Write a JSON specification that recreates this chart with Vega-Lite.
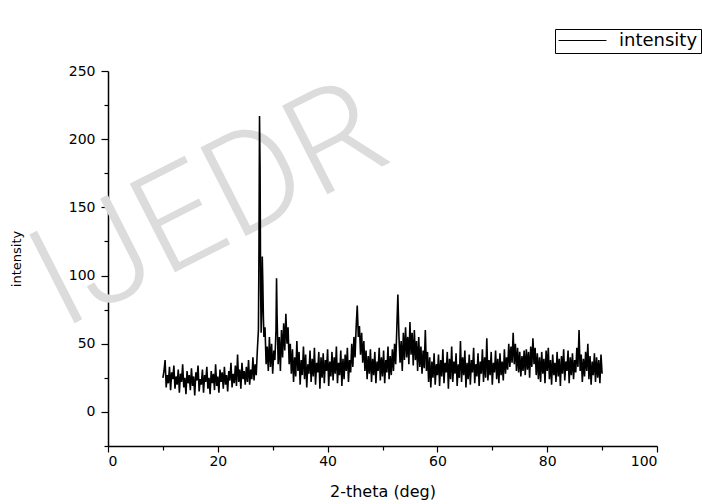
{
  "$schema": "https://vega.github.io/schema/vega-lite/v6.json",
  "autosize": "none",
  "width": 549,
  "height": 375,
  "padding": {"left": 108, "top": 71, "right": 45, "bottom": 58},
  "background": "white",
  "config": {
    "view": {"stroke": null},
    "font": "DejaVu Sans",
    "axis": {"zindex": 1, "domainColor": "black", "domainWidth": 1.5, "tickColor": "black", "tickWidth": 1.2, "labelColor": "black", "titleColor": "black", "labelFont": "DejaVu Sans", "titleFont": "DejaVu Sans", "titleFontWeight": "normal", "grid": false, "labelOverlap": false}
  },
  "datasets": {
    "xrd": [
      {"t":10.0,"v":25},{"t":10.2,"v":30},{"t":10.4,"v":38},{"t":10.6,"v":18},{"t":10.8,"v":27},{"t":11.0,"v":21},{"t":11.2,"v":33},{"t":11.4,"v":16},{"t":11.6,"v":29},{"t":11.8,"v":24},
      {"t":12.0,"v":34},{"t":12.2,"v":17},{"t":12.4,"v":26},{"t":12.6,"v":20},{"t":12.8,"v":31},{"t":13.0,"v":14},{"t":13.2,"v":28},{"t":13.4,"v":22},{"t":13.6,"v":35},{"t":13.8,"v":18},
      {"t":14.0,"v":25},{"t":14.2,"v":13},{"t":14.4,"v":30},{"t":14.6,"v":21},{"t":14.8,"v":27},{"t":15.0,"v":16},{"t":15.2,"v":32},{"t":15.4,"v":19},{"t":15.6,"v":26},{"t":15.8,"v":12},
      {"t":16.0,"v":29},{"t":16.2,"v":23},{"t":16.4,"v":34},{"t":16.6,"v":15},{"t":16.8,"v":24},{"t":17.0,"v":20},{"t":17.2,"v":31},{"t":17.4,"v":14},{"t":17.6,"v":27},{"t":17.8,"v":22},
      {"t":18.0,"v":33},{"t":18.2,"v":17},{"t":18.4,"v":25},{"t":18.6,"v":13},{"t":18.8,"v":30},{"t":19.0,"v":21},{"t":19.2,"v":28},{"t":19.4,"v":16},{"t":19.6,"v":35},{"t":19.8,"v":19},
      {"t":20.0,"v":26},{"t":20.2,"v":14},{"t":20.4,"v":31},{"t":20.6,"v":22},{"t":20.8,"v":29},{"t":21.0,"v":17},{"t":21.2,"v":33},{"t":21.4,"v":20},{"t":21.6,"v":27},{"t":21.8,"v":15},
      {"t":22.0,"v":30},{"t":22.2,"v":23},{"t":22.4,"v":36},{"t":22.6,"v":18},{"t":22.8,"v":28},{"t":23.0,"v":21},{"t":23.2,"v":34},{"t":23.4,"v":19},{"t":23.6,"v":42},{"t":23.8,"v":22},
      {"t":24.0,"v":31},{"t":24.2,"v":17},{"t":24.4,"v":36},{"t":24.6,"v":24},{"t":24.8,"v":30},{"t":25.0,"v":20},{"t":25.2,"v":33},{"t":25.4,"v":22},{"t":25.6,"v":38},{"t":25.8,"v":20},
      {"t":26.0,"v":31},{"t":26.2,"v":24},{"t":26.4,"v":40},{"t":26.6,"v":23},{"t":26.8,"v":35},{"t":27.0,"v":27},{"t":27.2,"v":45},{"t":27.4,"v":60},{"t":27.5,"v":120},{"t":27.6,"v":217},
      {"t":27.7,"v":180},{"t":27.8,"v":90},{"t":27.9,"v":58},{"t":28.0,"v":75},{"t":28.1,"v":114},{"t":28.2,"v":95},{"t":28.3,"v":70},{"t":28.4,"v":55},{"t":28.6,"v":62},{"t":28.8,"v":35},
      {"t":29.0,"v":48},{"t":29.2,"v":30},{"t":29.4,"v":55},{"t":29.6,"v":33},{"t":29.8,"v":50},{"t":30.0,"v":28},{"t":30.2,"v":45},{"t":30.4,"v":38},{"t":30.6,"v":60},{"t":30.7,"v":98},
      {"t":30.8,"v":70},{"t":31.0,"v":35},{"t":31.2,"v":55},{"t":31.4,"v":30},{"t":31.6,"v":60},{"t":31.8,"v":40},{"t":32.0,"v":65},{"t":32.2,"v":45},{"t":32.4,"v":72},{"t":32.6,"v":50},
      {"t":32.8,"v":62},{"t":33.0,"v":35},{"t":33.2,"v":50},{"t":33.4,"v":28},{"t":33.6,"v":46},{"t":33.8,"v":22},{"t":34.0,"v":40},{"t":34.2,"v":26},{"t":34.4,"v":52},{"t":34.6,"v":30},
      {"t":34.8,"v":44},{"t":35.0,"v":20},{"t":35.2,"v":38},{"t":35.4,"v":27},{"t":35.6,"v":48},{"t":35.8,"v":24},{"t":36.0,"v":42},{"t":36.2,"v":18},{"t":36.4,"v":35},{"t":36.6,"v":28},
      {"t":36.8,"v":45},{"t":37.0,"v":22},{"t":37.2,"v":39},{"t":37.4,"v":26},{"t":37.6,"v":47},{"t":37.8,"v":20},{"t":38.0,"v":36},{"t":38.2,"v":29},{"t":38.4,"v":44},{"t":38.6,"v":17},
      {"t":38.8,"v":40},{"t":39.0,"v":25},{"t":39.2,"v":43},{"t":39.4,"v":21},{"t":39.6,"v":38},{"t":39.8,"v":30},{"t":40.0,"v":46},{"t":40.2,"v":19},{"t":40.4,"v":37},{"t":40.6,"v":26},
      {"t":40.8,"v":44},{"t":41.0,"v":23},{"t":41.2,"v":40},{"t":41.4,"v":28},{"t":41.6,"v":48},{"t":41.8,"v":21},{"t":42.0,"v":36},{"t":42.2,"v":27},{"t":42.4,"v":45},{"t":42.6,"v":19},
      {"t":42.8,"v":39},{"t":43.0,"v":24},{"t":43.2,"v":42},{"t":43.4,"v":30},{"t":43.6,"v":47},{"t":43.8,"v":22},{"t":44.0,"v":38},{"t":44.2,"v":29},{"t":44.4,"v":50},{"t":44.6,"v":33},
      {"t":44.8,"v":55},{"t":45.0,"v":40},{"t":45.2,"v":62},{"t":45.4,"v":78},{"t":45.6,"v":55},{"t":45.8,"v":63},{"t":46.0,"v":42},{"t":46.2,"v":58},{"t":46.4,"v":36},{"t":46.6,"v":52},
      {"t":46.8,"v":30},{"t":47.0,"v":45},{"t":47.2,"v":24},{"t":47.4,"v":41},{"t":47.6,"v":28},{"t":47.8,"v":46},{"t":48.0,"v":22},{"t":48.2,"v":39},{"t":48.4,"v":27},{"t":48.6,"v":44},
      {"t":48.8,"v":21},{"t":49.0,"v":37},{"t":49.2,"v":30},{"t":49.4,"v":47},{"t":49.6,"v":23},{"t":49.8,"v":40},{"t":50.0,"v":26},{"t":50.2,"v":45},{"t":50.4,"v":21},{"t":50.6,"v":38},
      {"t":50.8,"v":29},{"t":51.0,"v":48},{"t":51.2,"v":24},{"t":51.4,"v":41},{"t":51.6,"v":27},{"t":51.8,"v":46},{"t":52.0,"v":30},{"t":52.2,"v":50},{"t":52.4,"v":35},{"t":52.6,"v":60},
      {"t":52.8,"v":86},{"t":53.0,"v":55},{"t":53.2,"v":36},{"t":53.4,"v":52},{"t":53.6,"v":30},{"t":53.8,"v":58},{"t":54.0,"v":38},{"t":54.2,"v":62},{"t":54.4,"v":40},{"t":54.6,"v":55},
      {"t":54.8,"v":35},{"t":55.0,"v":66},{"t":55.2,"v":42},{"t":55.4,"v":58},{"t":55.6,"v":34},{"t":55.8,"v":60},{"t":56.0,"v":38},{"t":56.2,"v":52},{"t":56.4,"v":30},{"t":56.6,"v":55},
      {"t":56.8,"v":33},{"t":57.0,"v":48},{"t":57.2,"v":28},{"t":57.4,"v":45},{"t":57.6,"v":32},{"t":57.8,"v":60},{"t":58.0,"v":30},{"t":58.2,"v":44},{"t":58.4,"v":22},{"t":58.6,"v":40},
      {"t":58.8,"v":18},{"t":59.0,"v":37},{"t":59.2,"v":25},{"t":59.4,"v":43},{"t":59.6,"v":20},{"t":59.8,"v":35},{"t":60.0,"v":27},{"t":60.2,"v":42},{"t":60.4,"v":19},{"t":60.6,"v":38},
      {"t":60.8,"v":26},{"t":61.0,"v":46},{"t":61.2,"v":21},{"t":61.4,"v":36},{"t":61.6,"v":29},{"t":61.8,"v":44},{"t":62.0,"v":17},{"t":62.2,"v":39},{"t":62.4,"v":24},{"t":62.6,"v":48},
      {"t":62.8,"v":22},{"t":63.0,"v":37},{"t":63.2,"v":28},{"t":63.4,"v":43},{"t":63.6,"v":19},{"t":63.8,"v":35},{"t":64.0,"v":25},{"t":64.2,"v":52},{"t":64.4,"v":22},{"t":64.6,"v":40},
      {"t":64.8,"v":27},{"t":65.0,"v":45},{"t":65.2,"v":18},{"t":65.4,"v":36},{"t":65.6,"v":24},{"t":65.8,"v":42},{"t":66.0,"v":20},{"t":66.2,"v":38},{"t":66.4,"v":29},{"t":66.6,"v":47},
      {"t":66.8,"v":21},{"t":67.0,"v":35},{"t":67.2,"v":26},{"t":67.4,"v":43},{"t":67.6,"v":19},{"t":67.8,"v":37},{"t":68.0,"v":28},{"t":68.2,"v":46},{"t":68.4,"v":22},{"t":68.6,"v":40},
      {"t":68.8,"v":25},{"t":69.0,"v":54},{"t":69.2,"v":23},{"t":69.4,"v":38},{"t":69.6,"v":27},{"t":69.8,"v":44},{"t":70.0,"v":20},{"t":70.2,"v":36},{"t":70.4,"v":29},{"t":70.6,"v":45},
      {"t":70.8,"v":24},{"t":71.0,"v":39},{"t":71.2,"v":21},{"t":71.4,"v":43},{"t":71.6,"v":27},{"t":71.8,"v":37},{"t":72.0,"v":23},{"t":72.2,"v":46},{"t":72.4,"v":28},{"t":72.6,"v":40},
      {"t":72.8,"v":31},{"t":73.0,"v":50},{"t":73.2,"v":33},{"t":73.4,"v":48},{"t":73.6,"v":36},{"t":73.8,"v":58},{"t":74.0,"v":35},{"t":74.2,"v":50},{"t":74.4,"v":30},{"t":74.6,"v":47},
      {"t":74.8,"v":29},{"t":75.0,"v":44},{"t":75.2,"v":26},{"t":75.4,"v":41},{"t":75.6,"v":30},{"t":75.8,"v":45},{"t":76.0,"v":27},{"t":76.2,"v":46},{"t":76.4,"v":31},{"t":76.6,"v":44},
      {"t":76.8,"v":25},{"t":77.0,"v":48},{"t":77.2,"v":33},{"t":77.4,"v":54},{"t":77.6,"v":35},{"t":77.8,"v":47},{"t":78.0,"v":27},{"t":78.2,"v":43},{"t":78.4,"v":24},{"t":78.6,"v":40},
      {"t":78.8,"v":22},{"t":79.0,"v":44},{"t":79.2,"v":28},{"t":79.4,"v":39},{"t":79.6,"v":21},{"t":79.8,"v":45},{"t":80.0,"v":30},{"t":80.2,"v":47},{"t":80.4,"v":24},{"t":80.6,"v":38},
      {"t":80.8,"v":20},{"t":81.0,"v":42},{"t":81.2,"v":27},{"t":81.4,"v":36},{"t":81.6,"v":22},{"t":81.8,"v":44},{"t":82.0,"v":26},{"t":82.2,"v":39},{"t":82.4,"v":19},{"t":82.6,"v":41},
      {"t":82.8,"v":28},{"t":83.0,"v":46},{"t":83.2,"v":23},{"t":83.4,"v":37},{"t":83.6,"v":30},{"t":83.8,"v":45},{"t":84.0,"v":21},{"t":84.2,"v":40},{"t":84.4,"v":27},{"t":84.6,"v":43},
      {"t":84.8,"v":24},{"t":85.0,"v":38},{"t":85.2,"v":29},{"t":85.4,"v":47},{"t":85.6,"v":33},{"t":85.8,"v":60},{"t":86.0,"v":30},{"t":86.2,"v":42},{"t":86.4,"v":22},{"t":86.6,"v":39},
      {"t":86.8,"v":26},{"t":87.0,"v":44},{"t":87.2,"v":30},{"t":87.4,"v":50},{"t":87.6,"v":24},{"t":87.8,"v":41},{"t":88.0,"v":20},{"t":88.2,"v":37},{"t":88.4,"v":27},{"t":88.6,"v":43},
      {"t":88.8,"v":22},{"t":89.0,"v":40},{"t":89.2,"v":25},{"t":89.4,"v":38},{"t":89.6,"v":21},{"t":89.8,"v":42},{"t":90.0,"v":28}
    ],
    "mark": [{"label": "IJEDR"}]
  },
  "layer": [
    {
      "data": {"name": "mark"},
      "mark": {"type": "text", "angle": -27, "fontSize": 140, "font": "Roboto", "fontWeight": 300, "color": "#dcdcdc", "align": "center", "baseline": "middle"},
      "encoding": {
        "x": {"datum": 18.5, "type": "quantitative"},
        "y": {"datum": 150, "type": "quantitative"},
        "text": {"field": "label"}
      }
    },
    {
      "data": {"name": "xrd"},
      "mark": {"type": "line", "strokeWidth": 1.6, "interpolate": "linear"},
      "encoding": {
        "x": {
          "field": "t", "type": "quantitative",
          "scale": {"domain": [0, 100], "nice": false, "zero": false},
          "axis": {
            "title": "2-theta (deg)", "titleFontSize": 16, "titlePadding": 15,
            "values": [0, 10, 20, 30, 40, 50, 60, 70, 80, 90, 100],
            "tickCount": 100,
            "labelExpr": "datum.value % 20 === 0 ? datum.label : ''",
            "labelFontSize": 14, "labelPadding": 2, "labelOverlap": false,
            "tickSize": {"condition": {"test": "datum.value % 20 === 0", "value": 6}, "value": 4}
          }
        },
        "y": {
          "field": "v", "type": "quantitative",
          "scale": {"domain": [-25, 250], "nice": false, "zero": false},
          "axis": {
            "title": "intensity", "titleFontSize": 13, "titlePadding": 45,
            "values": [-25, 0, 25, 50, 75, 100, 125, 150, 175, 200, 225, 250],
            "tickCount": 100,
            "labelExpr": "datum.value % 50 === 0 ? datum.label : ''",
            "labelFontSize": 14, "labelPadding": 6, "labelOverlap": false,
            "tickSize": {"condition": {"test": "datum.value % 50 === 0", "value": 7}, "value": 4}
          }
        },
        "color": {
          "datum": "intensity", "type": "nominal",
          "scale": {"range": ["black"]},
          "legend": {
            "title": null, "orient": "none", "legendX": 447, "legendY": -42,
            "strokeColor": "black", "padding": 3, "symbolType": "stroke",
            "symbolSize": 2300, "symbolStrokeWidth": 1, "labelFontSize": 18,
            "clipHeight": 17,
            "labelFont": "DejaVu Sans", "labelColor": "black", "labelOffset": 12
          }
        }
      }
    }
  ]
}
